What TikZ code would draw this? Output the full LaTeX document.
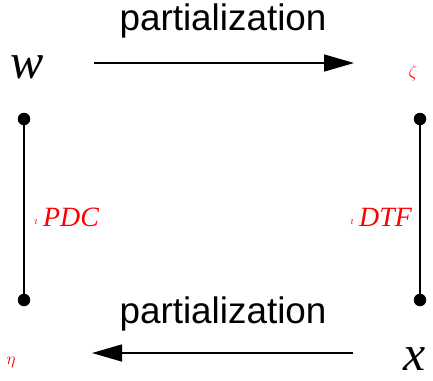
\documentclass[tikz,border=0pt]{standalone}
\usepackage{fontspec}
\setmainfont{Liberation Serif}
\newfontfamily\arialf{Liberation Sans}
\usetikzlibrary{arrows.meta}
\begin{document}
\begin{tikzpicture}[x=1bp,y=-1bp,
  lbl/.style={font=\arialf\fontsize{37}{40}\selectfont, inner sep=0, anchor=base},
  big/.style={font=\fontsize{50}{56}\selectfont\itshape, inner sep=0, anchor=base west, text depth=0pt},
  tiny/.style={text=red, font=\fontsize{17}{18}\selectfont, inner sep=0},
  dotless/.style={text=red, font=\fontsize{13}{14}\selectfont, inner sep=0, anchor=base},
  edge/.style={text=red, font=\fontsize{28}{30}\selectfont\itshape, inner sep=0, anchor=base west},
  dot/.style={circle, fill=black, inner sep=0, minimum size=12.5bp},
  arr/.style={line width=1.4bp, -{Triangle[length=30bp,width=17bp]}},
  vline/.style={line width=1.8bp}
]
\useasboundingbox (0,0) rectangle (433,380);
\node[lbl] (ptop) at (223,30) {partialization};
\node[lbl] (pbot) at (223,323) {partialization};
\node[big] (w) at (10,78) {w};
\node[big] (x) at (403,370) {x};
\node[tiny] (zeta) at (413,73) {$\zeta$};
\node[tiny] (eta) at (11,362) {$\eta$};
\node[dot] (d1) at (24,119) {};
\node[dot] (d2) at (420,119) {};
\node[dot] (d3) at (24,300) {};
\node[dot] (d4) at (420,300) {};
\draw[vline] (d1) -- (d3);
\draw[vline] (d2) -- (d4);
\node[dotless] (i1) at (36,224) {$\imath$};
\node[edge] (pdc) at (43,226) {PDC};
\node[dotless] (i2) at (352,224) {$\imath$};
\node[edge] (dtf) at (359,226) {DTF};
\coordinate (a1) at (94,63);
\coordinate (a2) at (354,63);
\coordinate (b1) at (353,353);
\coordinate (b2) at (92,353);
\draw[arr] (a1) -- (a2);
\draw[arr] (b1) -- (b2);
\end{tikzpicture}
\end{document}
